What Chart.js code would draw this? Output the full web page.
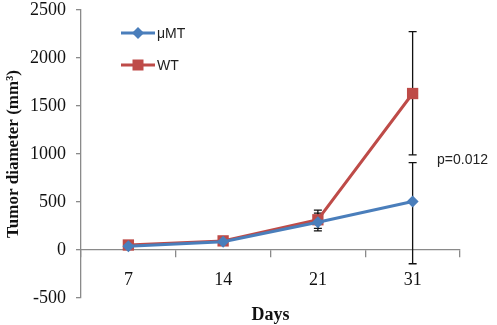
<!DOCTYPE html>
<html>
<head>
<meta charset="utf-8">
<script src="https://cdn.jsdelivr.net/npm/chart.js@4.4.1/dist/chart.umd.min.js"></script>
<style>
  html, body { margin: 0; padding: 0; background: #fff; }
  #wrap { width: 497px; height: 325px; }
</style>
</head>
<body>
<div id="wrap"><canvas id="myChart" width="497" height="325"></canvas></div>
<script>
// values
const days = ['7', '14', '21', '31'];
const mutValues = [40, 85, 290, 505];
const wtValues = [52, 95, 315, 1630];
const mutErrUp = [10, 10, 95, 405];
const mutErrDown = [10, 15, 90, 648];
const wtErrUp = [10, 10, 100, 645];
const wtErrDown = [10, 10, 90, 640];
const yTicks = [-500, 0, 500, 1000, 1500, 2000, 2500];
const yTitle = 'Tumor diameter (mm³)';
const pLabel = 'p=0.012';

const blue = '#4A7EBB';
const red = '#BE4B48';
const serif = '"Liberation Serif", "Times New Roman", serif';
const sans = '"Liberation Sans", Arial, sans-serif';

// black error bars with caps, drawn under the markers
const errorBars = {
  id: 'errorBars',
  beforeDatasetsDraw(chart) {
    const ctx = chart.ctx;
    const y = chart.scales.y;
    ctx.save();
    ctx.strokeStyle = '#111';
    ctx.lineWidth = 1.3;
    chart.data.datasets.forEach((ds, i) => {
      const meta = chart.getDatasetMeta(i);
      meta.data.forEach((pt, j) => {
        const v = ds.data[j];
        const top = y.getPixelForValue(v + ds.errUp[j]);
        const bot = y.getPixelForValue(v - ds.errDown[j]);
        ctx.beginPath();
        ctx.moveTo(pt.x, top); ctx.lineTo(pt.x, bot);
        ctx.moveTo(pt.x - 4, top); ctx.lineTo(pt.x + 4, top);
        ctx.moveTo(pt.x - 4, bot); ctx.lineTo(pt.x + 4, bot);
        ctx.stroke();
      });
    });
    ctx.restore();
  }
};

// legend, y title and the p value note
const extras = {
  id: 'extras',
  afterDraw(chart) {
    const ctx = chart.ctx;
    ctx.save();
    chart.data.datasets.forEach((ds, i) => {
      const ly = 33 + i * 32;
      ctx.strokeStyle = ds.borderColor;
      ctx.lineWidth = 3;
      ctx.beginPath();
      ctx.moveTo(121, ly); ctx.lineTo(155, ly);
      ctx.stroke();
      ctx.fillStyle = ds.backgroundColor;
      ctx.beginPath();
      if (ds.pointStyle === 'rect') {
        ctx.rect(138 - 5.5, ly - 5.5, 11, 11);
      } else {
        ctx.moveTo(138, ly - 6); ctx.lineTo(144, ly); ctx.lineTo(138, ly + 6); ctx.lineTo(132, ly);
        ctx.closePath();
      }
      ctx.fill();
      ctx.fillStyle = '#222';
      ctx.font = '14px ' + sans;
      ctx.textBaseline = 'middle';
      ctx.textAlign = 'left';
      ctx.fillText(ds.label, 157, ly + 1);
    });
    ctx.fillStyle = '#222';
    ctx.font = '14px ' + sans;
    ctx.textBaseline = 'middle';
    ctx.fillText(pLabel, 437, 160);

    ctx.translate(14, 154);
    ctx.rotate(-Math.PI / 2);
    ctx.fillStyle = '#111';
    ctx.font = 'bold 17px ' + serif;
    ctx.textAlign = 'center';
    ctx.fillText(yTitle, 0, 0);
    ctx.restore();
  }
};

const data = {
  labels: days,
  datasets: [{
    label: 'μMT',
    data: mutValues,
    errUp: mutErrUp,
    errDown: mutErrDown,
    borderColor: blue,
    backgroundColor: blue,
    borderWidth: 3,
    pointStyle: 'rectRot',
    pointRadius: 6,
    pointBorderWidth: 0
  }, {
    label: 'WT',
    data: wtValues,
    errUp: wtErrUp,
    errDown: wtErrDown,
    borderColor: red,
    backgroundColor: red,
    borderWidth: 3,
    pointStyle: 'rect',
    pointRadius: 8,
    pointBorderWidth: 0
  }]
};

const config = {
  type: 'line',
  data: data,
  plugins: [errorBars, extras],
  options: {
    responsive: false,
    animation: false,
    layout: { padding: { top: 10, right: 37, bottom: 27, left: 0 } },
    plugins: { legend: { display: false }, tooltip: { enabled: false } },
    scales: {
      x: {
        type: 'category',
        offset: true,
        position: { y: 0 },
        grid: { offset: true, drawOnChartArea: false, tickLength: 7, color: '#8a8a8a', lineWidth: 1.3 },
        border: { color: '#8a8a8a', width: 1.3 },
        ticks: { color: '#111', padding: 12, font: { family: serif, size: 18 } },
        title: {
          display: true, text: 'Days', color: '#111', padding: { top: 2 },
          font: { family: serif, size: 18, weight: 'bold' }
        }
      },
      y: {
        min: -500,
        max: 2500,
        afterBuildTicks(scale) { scale.ticks = yTicks.map(v => ({ value: v })); },
        afterFit(scale) {
          scale.width = 81;
          scale.paddingTop = 0;
          scale.paddingBottom = 0;
        },
        grid: { drawOnChartArea: false, tickLength: 5, color: '#8a8a8a', lineWidth: 1.3 },
        border: { color: '#8a8a8a', width: 1.3 },
        ticks: {
          color: '#111', padding: 10, font: { family: serif, size: 18 },
          callback: (v) => String(v)
        }
      }
    }
  }
};

const myChart = new Chart(document.getElementById('myChart'), config);
</script>
</body>
</html>
